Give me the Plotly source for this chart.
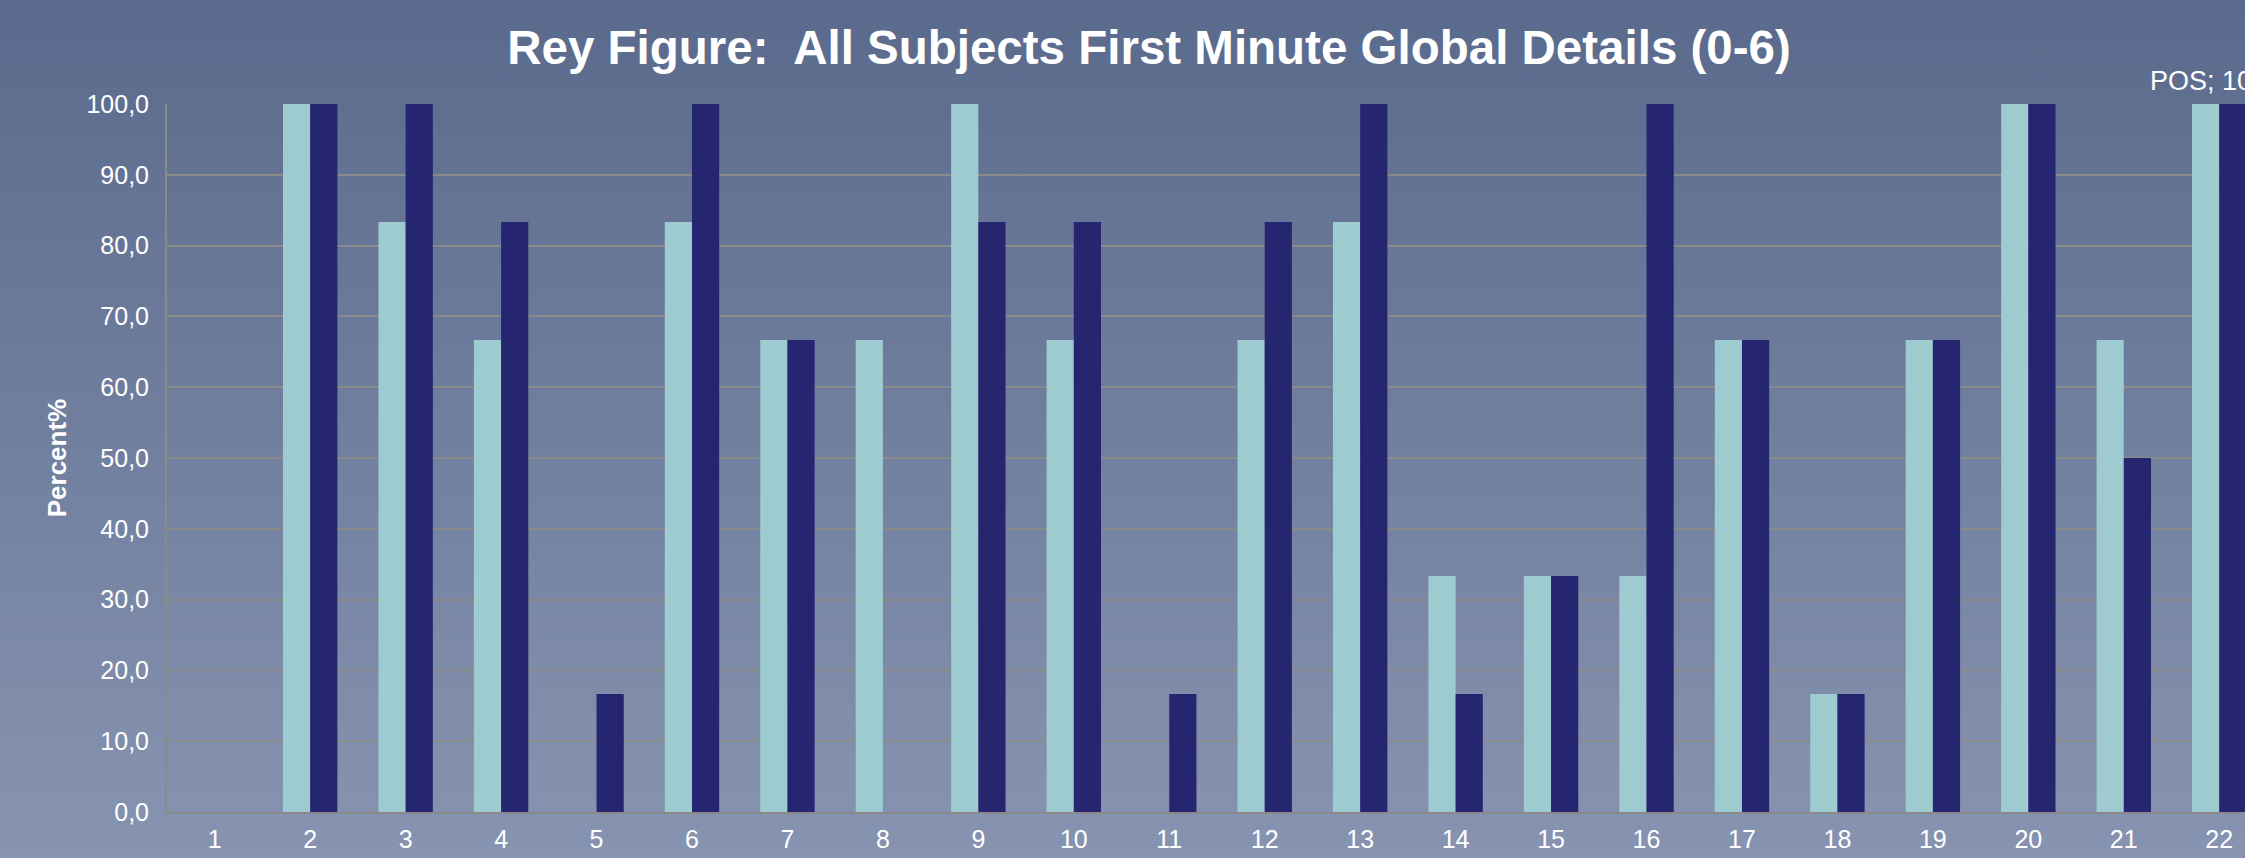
import plotly.graph_objects as go
import base64

categories = [str(i) for i in range(1, 23)]
neg_values = [0, 100, 83.33, 66.67, 0, 83.33, 66.67, 66.67, 100, 66.67, 0,
              66.67, 83.33, 33.33, 33.33, 33.33, 66.67, 16.67, 66.67, 100, 66.67, 100]
pos_values = [0, 100, 100, 83.33, 16.67, 100, 66.67, 0, 83.33, 83.33, 16.67,
              83.33, 100, 16.67, 33.33, 100, 66.67, 16.67, 66.67, 100, 50, 100]
y_ticks = [0, 10, 20, 30, 40, 50, 60, 70, 80, 90, 100]

W, H = 2245, 858

svg = f"""<svg xmlns='http://www.w3.org/2000/svg' width='{W}' height='{H}' preserveAspectRatio='none'>
<defs><linearGradient id='g' x1='0' y1='0' x2='0' y2='1'>
<stop offset='0' stop-color='#5a6a8c'/><stop offset='1' stop-color='#8794b1'/></linearGradient></defs>
<rect width='{W}' height='{H}' fill='url(#g)'/></svg>"""
bg_src = "data:image/svg+xml;base64," + base64.b64encode(svg.encode()).decode()

fig = go.Figure()
fig.add_trace(go.Bar(x=list(range(1, 23)), y=neg_values, name="NEG",
                     marker=dict(color="#9dcbcf", line=dict(width=0))))
fig.add_trace(go.Bar(x=list(range(1, 23)), y=pos_values, name="POS",
                     marker=dict(color="#262670", line=dict(width=0))))

ml, mt, mb, mr = 167, 104, 46, 0
plot_w = W - ml - mr
plot_h = H - mt - mb

fig.update_layout(
    width=W, height=H,
    margin=dict(l=ml, r=mr, t=mt, b=mb, pad=0),
    paper_bgcolor="#6f7e9e",
    plot_bgcolor="rgba(0,0,0,0)",
    separators=",.",
    barmode="group", bargap=0.43, bargroupgap=0,
    showlegend=False,
    font=dict(family="Arial, Liberation Sans, sans-serif", color="white"),
    title=dict(text="<b>Rey Figure:  All Subjects First Minute Global Details (0-6)</b>",
               x=1149 / W, xanchor="center", y=1 - 47 / H, yanchor="middle",
               font=dict(size=47.5, color="white")),
    xaxis=dict(range=[0.5, 22.27], tickmode="array", tickvals=list(range(1, 23)),
               ticktext=categories, showgrid=False, zeroline=False,
               showline=True, linecolor="#8a8a8a", linewidth=2,
               ticks="", ticklabelstandoff=4, tickfont=dict(size=25, color="white")),
    yaxis=dict(range=[0, 100], tickmode="array", tickvals=y_ticks,
               ticktext=[f"{v:.1f}".replace(".", ",") for v in y_ticks],
               showgrid=True, gridcolor="#8a8a8a", gridwidth=2,
               zeroline=False, showline=True, linecolor="#8a8a8a", linewidth=2,
               ticks="", ticklabelstandoff=11, tickfont=dict(size=25, color="white"),
               title=dict(text="<b>Percent%</b>", font=dict(size=26, color="white"),
                          standoff=12)),
    images=[dict(source=bg_src, xref="paper", yref="paper",
                 x=-ml / plot_w, y=1 + mt / plot_h, sizex=W / plot_w, sizey=H / plot_h,
                 xanchor="left", yanchor="top", sizing="stretch", layer="below")],
)

fig.add_annotation(x=22, y=100, xref="x", yref="y", text="POS; 100,0",
                   showarrow=False, yanchor="bottom", xanchor="left", xshift=-71, yshift=6,
                   font=dict(size=27, color="white"))

fig.write_html("out.html")
